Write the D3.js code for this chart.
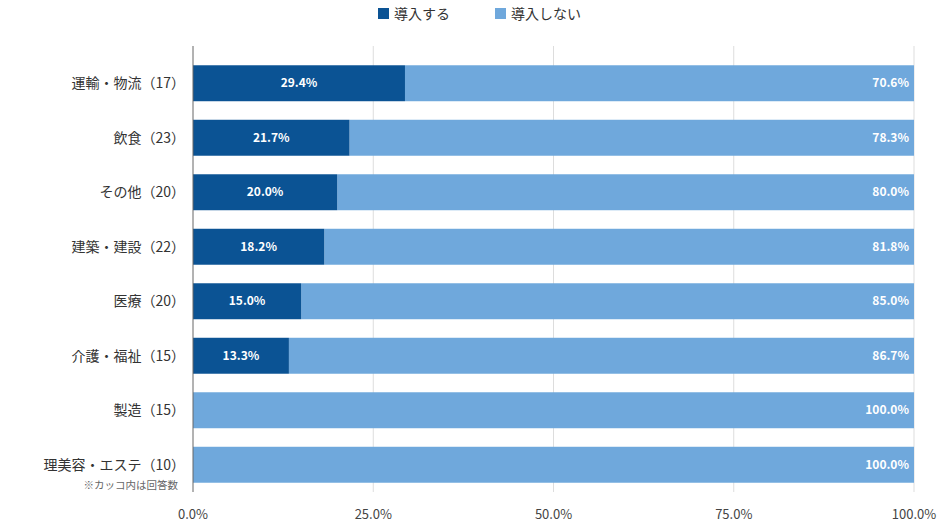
<!DOCTYPE html>
<html>
<head>
<meta charset="utf-8">
<script src="https://d3js.org/d3.v7.min.js"></script>
<style>
  body { margin: 0; background: #fff; }
  text { font-family: "Noto Sans CJK JP", "Noto Sans", sans-serif; }
</style>
</head>
<body>
<div id="chart"></div>
<script>
// data
const categories = ["運輸・物流（17）", "飲食（23）", "その他（20）", "建築・建設（22）", "医療（20）", "介護・福祉（15）", "製造（15）", "理美容・エステ（10）"];
const introduce = [29.4, 21.7, 20.0, 18.2, 15.0, 13.3, 0, 0];
const notIntroduce = [70.6, 78.3, 80.0, 81.8, 85.0, 86.7, 100.0, 100.0];
const seriesNames = ["導入する", "導入しない"];
const xTicks = [0, 25, 50, 75, 100];
const colors = ["#0b5394", "#6fa8dc"];

const W = 952, H = 530;
const plotLeft = 193, plotRight = 914, plotTop = 56, plotBottom = 492;

const svg = d3.select("#chart").append("svg")
  .attr("width", W).attr("height", H);

const x = d3.scaleLinear().domain([0, 100]).range([plotLeft, plotRight]);
const y = d3.scaleBand().domain(categories).range([plotTop, plotBottom]).paddingInner(0.34).paddingOuter(0.17);

// gridlines
svg.append("g").selectAll("line")
  .data(xTicks.slice(1))
  .join("line")
  .attr("x1", d => x(d)).attr("x2", d => x(d))
  .attr("y1", 46).attr("y2", plotBottom)
  .attr("stroke", "#ddd");

// x tick labels
svg.append("g").selectAll("text")
  .data(xTicks)
  .join("text")
  .attr("x", d => x(d))
  .attr("y", 519)
  .attr("text-anchor", "middle")
  .attr("font-size", 13)
  .attr("fill", "#444")
  .text(d => d.toFixed(1) + "%");

const rows = categories.map((c, i) => ({ c, a: introduce[i], b: notIntroduce[i] }));

const g = svg.append("g");
// light bars (stacked after dark)
g.selectAll(".b2")
  .data(rows)
  .join("rect")
  .attr("class", "b2")
  .attr("x", d => x(d.a))
  .attr("y", d => y(d.c))
  .attr("width", d => x(d.a + d.b) - x(d.a))
  .attr("height", y.bandwidth())
  .attr("fill", colors[1]);

g.selectAll(".b1")
  .data(rows.filter(d => d.a > 0))
  .join("rect")
  .attr("class", "b1")
  .attr("x", x(0))
  .attr("y", d => y(d.c))
  .attr("width", d => x(d.a) - x(0))
  .attr("height", y.bandwidth())
  .attr("fill", colors[0]);

// value labels
g.selectAll(".l1")
  .data(rows.filter(d => d.a > 0))
  .join("text")
  .attr("x", d => (x(0) + x(d.a)) / 2)
  .attr("y", d => y(d.c) + y.bandwidth() / 2 + 4)
  .attr("text-anchor", "middle")
  .attr("font-size", 12)
  .attr("font-weight", "bold")
  .attr("fill", "#fff")
  .text(d => d.a.toFixed(1) + "%");

g.selectAll(".l2")
  .data(rows)
  .join("text")
  .attr("x", d => x(d.a + d.b) - 5)
  .attr("y", d => y(d.c) + y.bandwidth() / 2 + 4)
  .attr("text-anchor", "end")
  .attr("font-size", 12)
  .attr("font-weight", "bold")
  .attr("fill", "#fff")
  .text(d => d.b.toFixed(1) + "%");

// y axis line
svg.append("line")
  .attr("x1", plotLeft).attr("x2", plotLeft)
  .attr("y1", 46).attr("y2", plotBottom)
  .attr("stroke", "#666");

// category labels
svg.append("g").selectAll("text")
  .data(categories)
  .join("text")
  .attr("x", 185)
  .attr("y", d => y(d) + y.bandwidth() / 2 + 5)
  .attr("text-anchor", "end")
  .attr("font-size", 14)
  .attr("fill", "#333")
  .text(d => d);

// footnote
svg.append("text")
  .attr("x", 178).attr("y", 489)
  .attr("text-anchor", "end")
  .attr("font-size", 10.5)
  .attr("fill", "#666")
  .text("※カッコ内は回答数");

// legend
const legX = [378, 495];
const leg = svg.append("g").selectAll("g")
  .data(seriesNames)
  .join("g")
  .attr("transform", (d, i) => `translate(${legX[i]},8)`);
leg.append("rect").attr("width", 11).attr("height", 11).attr("fill", (d, i) => colors[i]);
leg.append("text").attr("x", 16).attr("y", 11).attr("font-size", 14).attr("fill", "#333").text(d => d);
</script>
</body>
</html>
